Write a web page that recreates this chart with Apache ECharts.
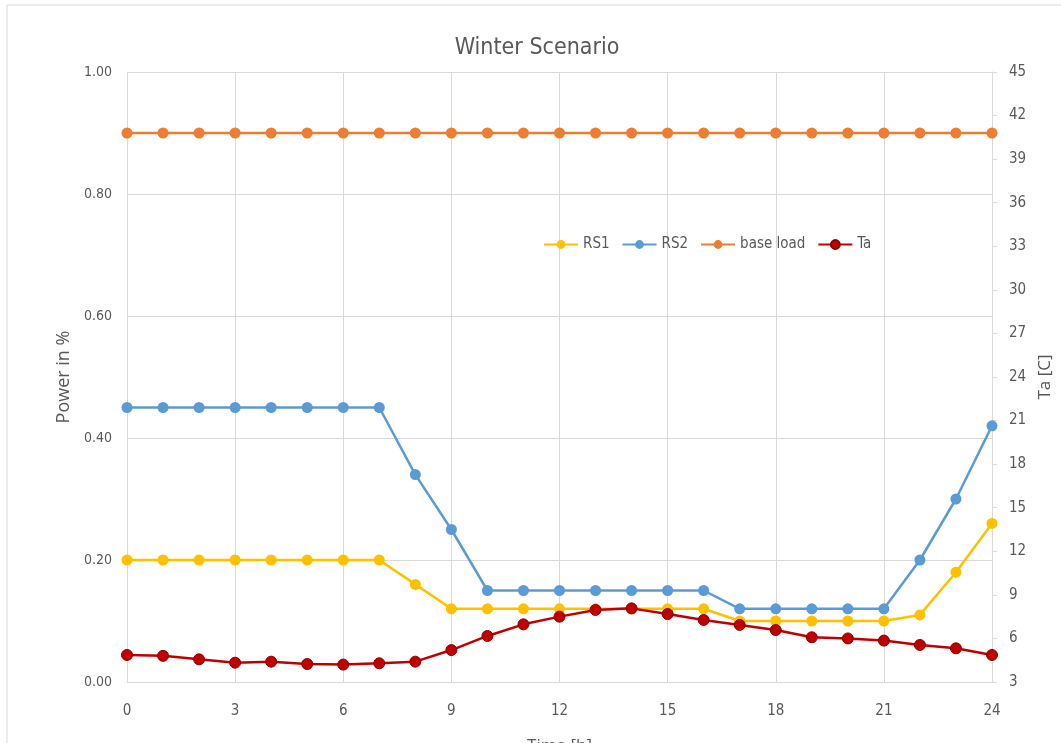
<!DOCTYPE html>
<html><head><meta charset="utf-8">
<script src="https://cdn.jsdelivr.net/npm/echarts@6/dist/echarts.min.js"></script>
<style>html,body{margin:0;padding:0;background:#fff;overflow:hidden}#c{width:1061px;height:743px}</style>
</head><body><div id="c"></div>
<script>
var hours = [0,1,2,3,4,5,6,7,8,9,10,11,12,13,14,15,16,17,18,19,20,21,22,23,24];
var rs1 = [0.20,0.20,0.20,0.20,0.20,0.20,0.20,0.20,0.16,0.12,0.12,0.12,0.12,0.12,0.12,0.12,0.12,0.10,0.10,0.10,0.10,0.10,0.11,0.18,0.26];
var rs2 = [0.45,0.45,0.45,0.45,0.45,0.45,0.45,0.45,0.34,0.25,0.15,0.15,0.15,0.15,0.15,0.15,0.15,0.12,0.12,0.12,0.12,0.12,0.20,0.30,0.42];
var baseLoad = [0.90,0.90,0.90,0.90,0.90,0.90,0.90,0.90,0.90,0.90,0.90,0.90,0.90,0.90,0.90,0.90,0.90,0.90,0.90,0.90,0.90,0.90,0.90,0.90,0.90];
var ta = [4.86,4.8,4.56,4.33,4.4,4.24,4.2,4.29,4.4,5.2,6.17,6.97,7.5,7.96,8.07,7.68,7.27,6.93,6.58,6.08,6.0,5.85,5.55,5.32,4.86];
var seriesNames = ['RS1','RS2','base load','Ta'];
var colors = ['#FFC000','#5B9BD5','#ED7D31','#C00000'];

function pairs(v){ return hours.map(function(h,i){ return [h, v[i]]; }); }
var tickFont = '"Liberation Sans Narrow","DejaVu Sans Condensed","Liberation Sans",sans-serif';
var nameFont = '"Open Sans",sans-serif';
var gridColor = '#d9d9d9';
var chart = echarts.init(document.getElementById('c'), null, {renderer:'canvas', width:1061, height:743});
function mk(name, data, color, yIdx){
  return {name:name, type:'line', data:pairs(data), yAxisIndex:yIdx, color:color,
    symbol:'circle', symbolSize:11, lineStyle:{width:2.5,color:color},
    itemStyle:{color:color, borderColor: yIdx===1 ? '#8b0000' : color, borderWidth: yIdx===1?1:0}, z: yIdx===1?3:2};
}
chart.setOption({
  animation:false,
  graphic:[{type:'rect', shape:{x:7,y:5,width:1200,height:900}, style:{fill:'none', stroke:'#d9d9d9', lineWidth:1}, silent:true}],
  title:{text:'Winter Scenario', left:532, top:32, textAlign:'center',
    textStyle:{fontFamily:tickFont, fontSize:23, fontWeight:'normal', color:'#595959'}},
  legend:{data:seriesNames, left:538, top:232, itemWidth:34, itemHeight:11, itemGap:12,
    textStyle:{fontFamily:tickFont, fontSize:15, color:'#595959'}},
  grid:{left:127, top:72, width:865, height:610, containLabel:false, outerBoundsMode:'none'},
  xAxis:{type:'value', min:0, max:24, interval:3,
    name:'Time [h]', nameLocation:'middle', nameGap:56,
    nameTextStyle:{fontFamily:nameFont, fontSize:17, color:'#595959', verticalAlign:'top'},
    axisLine:{show:true, lineStyle:{color:gridColor}}, axisTick:{show:false},
    axisLabel:{margin:22, fontFamily:tickFont, fontSize:15, color:'#595959'},
    splitLine:{show:true, lineStyle:{color:gridColor}}},
  yAxis:[
    {type:'value', min:0, max:1, interval:0.2, name:'Power in %', nameLocation:'middle', nameGap:50, nameRotate:90,
      nameTextStyle:{fontFamily:nameFont, fontSize:18, color:'#595959'},
      axisLine:{show:false}, axisTick:{show:false},
      axisLabel:{margin:15, fontFamily:tickFont, fontSize:14, color:'#595959', formatter:function(v){return v.toFixed(2);}},
      splitLine:{show:true, lineStyle:{color:gridColor}}},
    {type:'value', min:3, max:45, interval:3, name:'Ta [C]', nameLocation:'middle', nameGap:44, nameRotate:90,
      nameTextStyle:{fontFamily:nameFont, fontSize:17, color:'#595959'},
      axisLine:{show:true, lineStyle:{color:gridColor}}, axisTick:{show:true, length:5, lineStyle:{color:gridColor}},
      axisLabel:{margin:17, fontFamily:tickFont, fontSize:15, color:'#595959'},
      splitLine:{show:false}}
  ],
  series:[
    mk('RS1', rs1, colors[0], 0),
    mk('RS2', rs2, colors[1], 0),
    mk('base load', baseLoad, colors[2], 0),
    mk('Ta', ta, colors[3], 1)
  ]
});
</script></body></html>
